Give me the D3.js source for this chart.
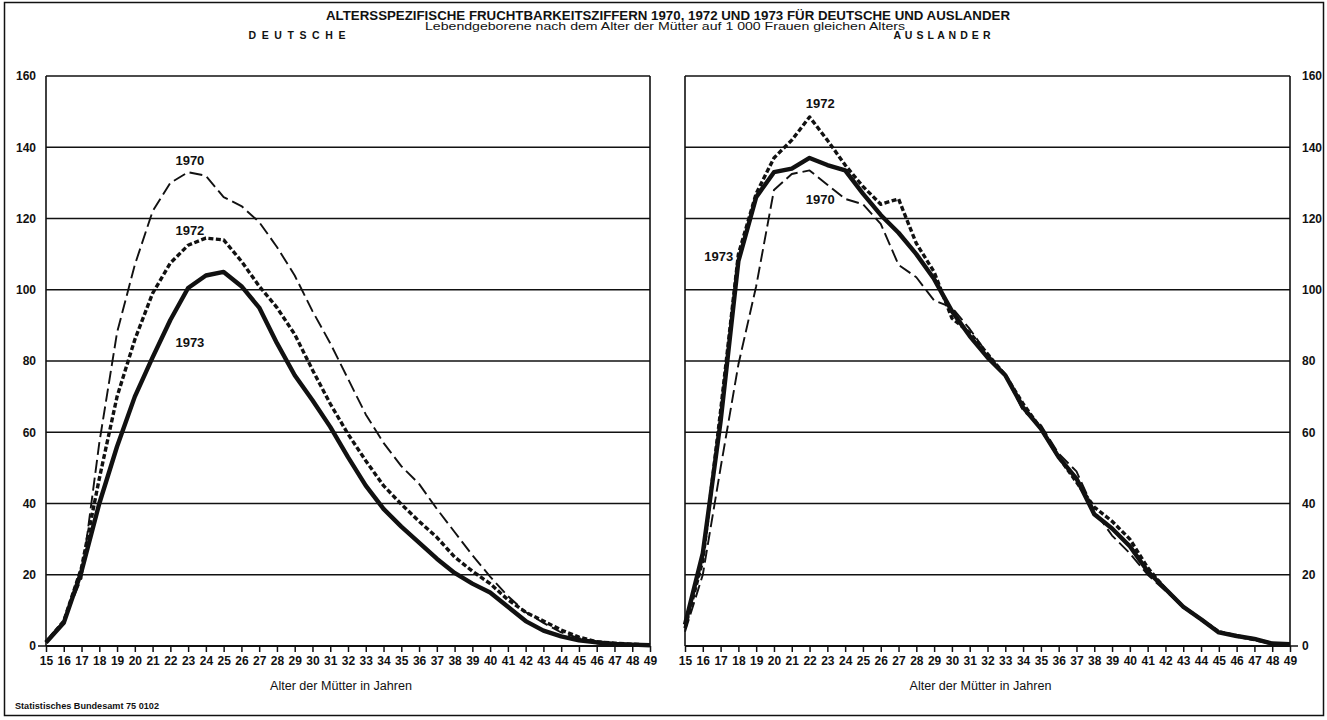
<!DOCTYPE html>
<html><head><meta charset="utf-8">
<script src="https://cdn.jsdelivr.net/npm/d3@7"></script>
<style>
html,body{margin:0;padding:0;background:#fff;}
svg text{font-family:"Liberation Sans","Arial",sans-serif;font-weight:bold;fill:#111;}
</style></head>
<body><svg id="c" width="1327" height="720"></svg>
<script>
const ages = d3.range(15, 50);
const yTicks = [0,20,40,60,80,100,120,140,160];

// Deutsche
const de1970 = [1.2,7,19,57,88,107,122,130,133,132,126,123.5,119,112,104,94,85,75,65,57,50.5,45.5,38.5,32,25.5,19.5,14,9.5,6.5,3.8,2.2,1.2,0.8,0.5,0.3];
const de1972 = [1,7,22,47,70,86,99,107.5,112.5,114.5,114,108,101,95,87.5,77.5,68,59.5,52,45,39.8,35,30.5,25,21,17.5,13,9.5,7,4.5,2.5,1.2,0.8,0.5,0.3];
const de1973 = [1,6.5,21,40,56,70,81,91.5,100.5,104,105,101,95,85,76,69,61.5,53,45,38.5,33.5,29,24.5,20.5,17.5,15,11,7,4.3,2.7,1.6,1,0.6,0.4,0.2];

// Ausländer
const au1970 = [4,20,50,79,101,128,132.5,133.5,129.5,125.5,124,118.5,107,103.5,97,95,89,82,76,66,62,54,49,38,31,26,20,15.5,11,7.5,4,3,2.2,0.8,0.5];
const au1972 = [5,24,66,110,127,137,142,148.5,142,135,129,124,125.5,113,105,92,88,82,76,68,61,53,46,39,35,30,22,16,11,7.5,4,2.8,1.8,0.7,0.5];
const au1973 = [6,26,63,108,126,133,134,137,135,133.5,127,121,116,110,103,94,87,81,76,67,61,53,47,37,33,28,21,16,11,7.5,3.8,2.8,2,0.7,0.5];

const title = "ALTERSSPEZIFISCHE FRUCHTBARKEITSZIFFERN 1970, 1972 UND 1973 FÜR DEUTSCHE UND AUSLANDER";
const subtitle = "Lebendgeborene nach dem Alter der Mütter auf 1 000 Frauen gleichen Alters";
const xTitle = "Alter der Mütter in Jahren";
const footer = "Statistisches Bundesamt 75 0102";

const svg = d3.select("#c");
svg.append("rect").attr("x",4.5).attr("y",2.5).attr("width",1319).attr("height",713)
  .attr("fill","none").attr("stroke","#111").attr("stroke-width",1.5);

svg.append("text").attr("x",668).attr("y",20).attr("text-anchor","middle")
  .attr("font-size",13.5).attr("textLength",684).attr("lengthAdjust","spacingAndGlyphs").text(title);
svg.append("text").attr("x",665).attr("y",29.5).attr("text-anchor","middle").style("font-weight","normal")
  .attr("font-size",10).attr("textLength",480).attr("lengthAdjust","spacingAndGlyphs").text(subtitle);

const y = d3.scaleLinear().domain([0,160]).range([646,76]);

const styles = {
  "1970": {w:1.9, dash:"13,5"},
  "1972": {w:3.4, dash:"5,2.5"},
  "1973": {w:4.4, dash:null}
};

const tickFont = t => t.attr("font-size",12).style("font-family",'"Liberation Sans",Arial,sans-serif').style("font-weight","bold").attr("fill","#111");

function panel(x0, x1, name, nameX, series, labels, yLabelSide){
  const x = d3.scaleLinear().domain([15,49]).range([x0,x1]);
  const g = svg.append("g");
  g.selectAll("line.grid").data(yTicks).join("line")
    .attr("x1",x0).attr("x2",x1).attr("y1",d=>y(d)).attr("y2",d=>y(d))
    .attr("stroke","#111").attr("stroke-width",d=>d===0?2:1.5);
  [x0,x1].forEach(xx=>g.append("line").attr("x1",xx).attr("x2",xx).attr("y1",y(160)).attr("y2",y(0))
    .attr("stroke","#111").attr("stroke-width",1.6));
  const ax = d3.axisBottom(x).tickValues(ages).tickSize(6).tickPadding(4).tickFormat(d3.format("d"));
  const axg = g.append("g").attr("transform",`translate(0,${y(0)})`).call(ax);
  axg.select(".domain").remove();
  axg.selectAll("line").attr("stroke","#111").attr("stroke-width",1.5);
  tickFont(axg.selectAll("text"));
  if (yLabelSide==="left"){
    const ay = d3.axisLeft(y).tickValues(yTicks).tickSize(0).tickPadding(10).tickFormat(d3.format("d"));
    const ayg = g.append("g").attr("transform",`translate(${x0},0)`).call(ay);
    ayg.select(".domain").remove();
    tickFont(ayg.selectAll("text"));
    g.append("line").attr("x1",x0-8).attr("x2",x0).attr("y1",y(0)).attr("y2",y(0)).attr("stroke","#111").attr("stroke-width",1.5);
  } else {
    const ay = d3.axisRight(y).tickValues(yTicks).tickSize(0).tickPadding(12).tickFormat(d3.format("d"));
    const ayg = g.append("g").attr("transform",`translate(${x1},0)`).call(ay);
    ayg.select(".domain").remove();
    tickFont(ayg.selectAll("text"));
    g.append("line").attr("x1",x1).attr("x2",x1+8).attr("y1",y(0)).attr("y2",y(0)).attr("stroke","#111").attr("stroke-width",1.5);
  }
  g.append("text").attr("x",(x0+x1)/2-7).attr("y",690).attr("text-anchor","middle").style("font-weight","normal")
    .attr("font-size",12).attr("textLength",142).attr("lengthAdjust","spacingAndGlyphs").text(xTitle);
  g.append("text").attr("x",nameX).attr("y",38.5).attr("text-anchor","middle").attr("font-size",10.5)
    .attr("textLength",97).attr("lengthAdjust","spacing").text(name.split("").join(" "));
  const line = d3.line().x((d,i)=>x(ages[i])).y(d=>y(d)).curve(d3.curveLinear);
  Object.entries(series).forEach(([yr,vals])=>{
    const s = styles[yr];
    g.append("path").datum(vals).attr("d",line).attr("fill","none").attr("stroke","#111")
      .attr("stroke-width",s.w).attr("stroke-dasharray",s.dash).attr("stroke-linejoin","round");
  });
  labels.forEach(l=>{
    g.append("text").attr("x",x(l.age)).attr("y",y(l.val)).attr("text-anchor","middle").attr("font-size",13).text(l.t);
  });
}

panel(46, 650, "DEUTSCHE", 297, {"1970":de1970,"1972":de1972,"1973":de1973},
  [{t:"1970",age:23.1,val:135},{t:"1972",age:23.1,val:115.5},{t:"1973",age:23.1,val:84}], "left");
panel(685, 1290, "AUSLANDER", 942, {"1970":au1970,"1972":au1972,"1973":au1973},
  [{t:"1972",age:22.6,val:151},{t:"1970",age:22.6,val:124},{t:"1973",age:16.9,val:108}], "right");

svg.append("text").attr("x",15).attr("y",709).attr("font-size",8.5).attr("textLength",144).attr("lengthAdjust","spacingAndGlyphs").text(footer);
</script></body></html>
